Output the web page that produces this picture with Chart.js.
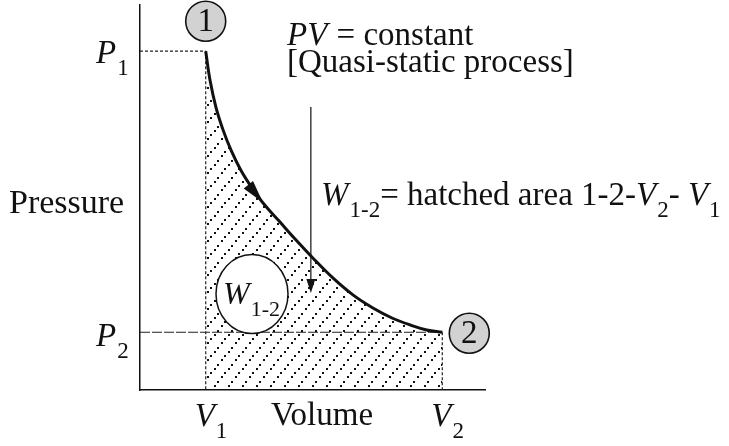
<!DOCTYPE html>
<html>
<head>
<meta charset="utf-8">
<script src="https://cdn.jsdelivr.net/npm/chart.js@4.4.1/dist/chart.umd.min.js"></script>
<style>
  html, body { margin: 0; padding: 0; background: #fff; }
  #wrap { width: 729px; height: 446px; }
</style>
</head>
<body>
<div id="wrap"><canvas id="chart" width="729" height="446"></canvas></div>
<script>
// state points (arbitrary units)
const V1 = 2.0, V2 = 9.2;
const P1 = 8.8, P2 = 1.5;

// process curve 1 -> 2
const curveV = [2.0, 2.13, 2.31, 2.53, 2.77, 3.07, 3.41, 3.77, 4.22, 4.72, 5.26, 5.87, 6.48, 7.09, 7.67, 8.22, 8.73, 9.2];
const curveP = [8.8, 8.05, 7.35, 6.75, 6.23, 5.71, 5.25, 4.83, 4.4, 3.92, 3.43, 2.91, 2.47, 2.13, 1.87, 1.69, 1.56, 1.5];

// direction arrow on the curve and the work arrow
const curveArrow = { v: 3.74, p: 4.87 };
const workArrow = { v: 5.2, pTop: 7.35, pTip: 2.52 };
const SERIF = '"Liberation Serif", "DejaVu Serif", serif';

function hatch() {
  const c = document.createElement('canvas');
  c.width = 14; c.height = 17;
  const g = c.getContext('2d');
  g.fillStyle = '#111';
  for (let k = 0; k < 4; k++) g.fillRect(Math.round(k * 3.5), Math.round(17 - k * 4.25 - 2), 2, 2);
  return g.createPattern(c, 'repeat');
}

const pts = (xs, ys) => xs.map((v, i) => ({ x: v, y: ys[i] }));
const dashed = (xs, ys, dash) => ({
  data: pts(xs, ys), borderColor: '#222', borderWidth: 1.2, borderDash: dash,
  pointRadius: 0, fill: false, tension: 0
});

// rich text: parts = [{t, it, sub}]
function rich(ctx, x, y, parts, size) {
  let cx = x;
  for (const p of parts) {
    const s = p.sub ? Math.round(size * 0.7) : size;
    ctx.font = (p.it ? 'italic ' : '') + s + 'px ' + SERIF;
    ctx.fillText(p.t, cx, p.sub ? y + 12 : y);
    cx += ctx.measureText(p.t).width + (p.it ? 1 : 0);
  }
  return cx - x;
}

function bubble(ctx, cx, cy, r, txt) {
  ctx.beginPath();
  ctx.arc(cx, cy, r, 0, Math.PI * 2);
  ctx.fillStyle = '#d2d2d2';
  ctx.fill();
  ctx.lineWidth = 1.6;
  ctx.strokeStyle = '#111';
  ctx.stroke();
  ctx.fillStyle = '#111';
  ctx.font = '33px ' + SERIF;
  ctx.textAlign = 'center';
  ctx.textBaseline = 'middle';
  ctx.fillText(txt, cx, cy + 1);
  ctx.textAlign = 'left';
  ctx.textBaseline = 'alphabetic';
}

const decor = {
  id: 'decor',
  afterDatasetsDraw(chart) {
    const { ctx, scales: { x, y } } = chart;
    ctx.save();
    ctx.fillStyle = '#111';
    ctx.strokeStyle = '#111';

    // arrow head on the curve
    const a = { x: x.getPixelForValue(curveV[6]), y: y.getPixelForValue(curveP[6]) };
    const b = { x: x.getPixelForValue(curveV[8]), y: y.getPixelForValue(curveP[8]) };
    const len = Math.hypot(b.x - a.x, b.y - a.y);
    const dx = (b.x - a.x) / len, dy = (b.y - a.y) / len;
    const tip = { x: x.getPixelForValue(curveArrow.v), y: y.getPixelForValue(curveArrow.p) };
    ctx.beginPath();
    ctx.moveTo(tip.x, tip.y);
    ctx.lineTo(tip.x - dx * 23 - dy * 6, tip.y - dy * 23 + dx * 6);
    ctx.lineTo(tip.x - dx * 23 + dy * 6, tip.y - dy * 23 - dx * 6);
    ctx.closePath();
    ctx.fill();

    // work arrow
    const ax = x.getPixelForValue(workArrow.v);
    const ay0 = y.getPixelForValue(workArrow.pTop);
    const ay1 = y.getPixelForValue(workArrow.pTip);
    ctx.lineWidth = 1.2;
    ctx.beginPath();
    ctx.moveTo(ax, ay0);
    ctx.lineTo(ax, ay1 - 6);
    ctx.stroke();
    ctx.beginPath();
    ctx.moveTo(ax, ay1);
    ctx.lineTo(ax - 4.5, ay1 - 14);
    ctx.lineTo(ax + 4.5, ay1 - 14);
    ctx.closePath();
    ctx.fill();

    // W1-2 ellipse
    ctx.beginPath();
    ctx.ellipse(252, 294, 36, 39.5, 0, 0, Math.PI * 2);
    ctx.fillStyle = '#fff';
    ctx.fill();
    ctx.lineWidth = 1.5;
    ctx.stroke();
    ctx.fillStyle = '#111';
    rich(ctx, 223, 304, [{ t: 'W', it: true }, { t: '1-2', sub: true }], 32);

    // state bubbles
    const p1x = x.getPixelForValue(V1), p1y = y.getPixelForValue(P1);
    const p2x = x.getPixelForValue(V2), p2y = y.getPixelForValue(P2);
    bubble(ctx, p1x, p1y - 30, 20, '1');
    bubble(ctx, p2x + 27, p2y + 1, 20, '2');

    // axis labels
    ctx.fillStyle = '#111';
    rich(ctx, 9, 213, [{ t: 'Pressure' }], 34);
    rich(ctx, 271, 425, [{ t: 'Volume' }], 33);
    rich(ctx, 96, p1y + 12, [{ t: 'P', it: true }, { t: '1', sub: true }], 33);
    rich(ctx, 96, p2y + 14, [{ t: 'P', it: true }, { t: '2', sub: true }], 33);
    rich(ctx, p1x - 11, 426, [{ t: 'V', it: true }, { t: '1', sub: true }], 33);
    rich(ctx, p2x - 11, 426, [{ t: 'V', it: true }, { t: '2', sub: true }], 33);

    // notes
    rich(ctx, 287, 45, [{ t: 'PV', it: true }, { t: ' = constant' }], 33);
    rich(ctx, 287, 72, [{ t: '[Quasi-static process]' }], 33);
    rich(ctx, 321, 205, [
      { t: 'W', it: true }, { t: '1-2', sub: true }, { t: '= hatched area 1-2-' },
      { t: 'V', it: true }, { t: '2', sub: true }, { t: '- ' },
      { t: 'V', it: true }, { t: '1', sub: true }
    ], 33);
    ctx.restore();
  }
};

new Chart(document.getElementById('chart'), {
  type: 'line',
  data: {
    datasets: [
      {
        data: pts(curveV, curveP), borderColor: '#111', borderWidth: 3,
        backgroundColor: hatch(), fill: 'origin', pointRadius: 0,
        tension: 0.4
      },
      dashed([0, V1], [P1, P1], [3, 2]),
      dashed([V1, V1], [P1, 0], [3, 2]),
      dashed([0, V2], [P2, P2], [10, 2]),
      dashed([V2, V2], [P2, 0], [3, 2])
    ]
  },
  options: {
    responsive: false,
    animation: false,
    events: [],
    layout: { padding: { left: 140, right: 244, top: 5, bottom: 56 } },
    plugins: { legend: { display: false }, tooltip: { enabled: false } },
    scales: {
      x: {
        type: 'linear', min: 0, max: 10.5,
        grid: { display: false, drawTicks: false },
        ticks: { display: false },
        border: { color: '#111', width: 1.5 }
      },
      y: {
        type: 'linear', min: 0, max: 10,
        grid: { display: false, drawTicks: false },
        ticks: { display: false },
        border: { color: '#111', width: 1.5 }
      }
    }
  },
  plugins: [decor]
});
</script>
</body>
</html>
